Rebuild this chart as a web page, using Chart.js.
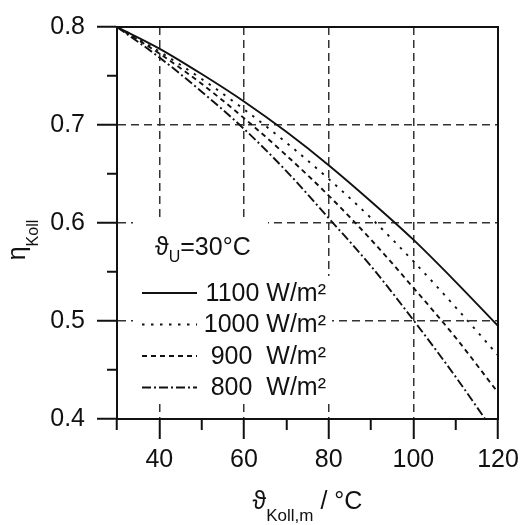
<!DOCTYPE html>
<html lang="de">
<head>
  <meta charset="utf-8">
  <title>Kollektorwirkungsgrad</title>
  <script src="https://cdn.jsdelivr.net/npm/chart.js"></script>
  <style>
    body { margin: 0; background: #fff; }
    #wrap { width: 526px; height: 525px; position: relative; }
  </style>
</head>
<body>
<div id="wrap">
  <canvas id="etaChart"></canvas>
</div>

<script>
  // mittlere Kollektortemperatur in °C
  const temps = [30, 40, 50, 60, 70, 80, 90, 100, 110, 120];
  // Wirkungsgrad je Einstrahlung
  const eta1100 = [0.800, 0.778, 0.752, 0.724, 0.693, 0.659, 0.622, 0.583, 0.540, 0.495];
  const eta1000 = [0.800, 0.775, 0.747, 0.716, 0.682, 0.645, 0.605, 0.561, 0.514, 0.465];
  const eta900  = [0.800, 0.773, 0.742, 0.707, 0.669, 0.628, 0.583, 0.534, 0.483, 0.427];
  const eta800  = [0.800, 0.769, 0.734, 0.696, 0.653, 0.605, 0.556, 0.501, 0.443, 0.381];
  const seriesLabels = ['1100 W/m²', '1000 W/m²', '900  W/m²', '800  W/m²'];
  const xTicks = [40, 60, 80, 100, 120];
  const yTicks = [0.4, 0.5, 0.6, 0.7, 0.8];

  const FONT = "'Liberation Sans', Arial, Helvetica, sans-serif";
  const INK = '#111';

  const toPoints = ys => ys.map((y, i) => ({ x: temps[i], y: y }));
  const isMajorX = v => xTicks.includes(v);
  const isMajorY = v => yTicks.some(t => Math.abs(t - v) < 1e-6);

  // draws text pieces in a row, subscripts get a smaller font and a lower baseline
  function drawParts(ctx, x, y, parts) {
    parts.forEach(p => {
      ctx.font = p.size + 'px ' + FONT;
      ctx.fillText(p.t, x, y + (p.dy || 0));
      x += ctx.measureText(p.t).width;
    });
    return x;
  }
  function partsWidth(ctx, parts) {
    let w = 0;
    parts.forEach(p => { ctx.font = p.size + 'px ' + FONT; w += ctx.measureText(p.t).width; });
    return w;
  }

  const extras = {
    id: 'extras',
    afterDatasetsDraw(chart) {
      const ctx = chart.ctx;
      const a = chart.chartArea;
      ctx.save();

      // white boxes under the legend so the grid stops there
      ctx.fillStyle = '#fff';
      ctx.fillRect(a.left + 16, 221, 135, 56);
      ctx.fillRect(a.left + 16, 276, 199, 126);

      ctx.fillStyle = INK;
      ctx.textBaseline = 'alphabetic';
      ctx.textAlign = 'left';
      drawParts(ctx, a.left + 38, 255, [
        { t: 'ϑ', size: 25 }, { t: 'U', size: 16, dy: 7 }, { t: '=30°C', size: 25 }
      ]);

      // legend rows
      chart.data.datasets.forEach((ds, i) => {
        const y = 293 + i * 31.5;
        ctx.beginPath();
        ctx.setLineDash(ds.borderDash || []);
        ctx.lineWidth = ds.borderWidth;
        ctx.strokeStyle = ds.borderColor;
        ctx.moveTo(a.left + 25, y);
        ctx.lineTo(a.left + 80, y);
        ctx.stroke();
        ctx.setLineDash([]);
        ctx.font = '25px ' + FONT;
        ctx.textAlign = 'right';
        ctx.textBaseline = 'middle';
        ctx.fillText(ds.label, a.left + 209, y + 1);
      });

      // frame
      ctx.setLineDash([]);
      ctx.lineWidth = 2;
      ctx.strokeStyle = INK;
      ctx.strokeRect(a.left, a.top, a.right - a.left, a.bottom - a.top);

      // x axis title
      ctx.textAlign = 'left';
      ctx.textBaseline = 'alphabetic';
      const xt = [
        { t: 'ϑ', size: 25 }, { t: 'Koll,m', size: 17, dy: 12 }, { t: ' / °C', size: 25 }
      ];
      const cx = (a.left + a.right) / 2;
      drawParts(ctx, cx - partsWidth(ctx, xt) / 2, 509, xt);

      // y axis title, rotated
      const yt = [{ t: 'η', size: 25 }, { t: 'Koll', size: 16, dy: 13 }];
      ctx.translate(25, 240 + partsWidth(ctx, yt) / 2);
      ctx.rotate(-Math.PI / 2);
      drawParts(ctx, 0, 0, yt);

      ctx.restore();
    }
  };

  const gridColor = major => major ? '#333' : 'transparent';

  new Chart(document.getElementById('etaChart'), {
    type: 'line',
    data: {
      datasets: [
        { label: seriesLabels[0], data: toPoints(eta1100), borderDash: [] },
        { label: seriesLabels[1], data: toPoints(eta1000), borderDash: [2.5, 6.5] },
        { label: seriesLabels[2], data: toPoints(eta900), borderDash: [5, 4] },
        { label: seriesLabels[3], data: toPoints(eta800), borderDash: [9, 3, 2, 3] }
      ].map(ds => Object.assign(ds, {
        borderColor: INK,
        borderWidth: 1.9,
        pointRadius: 0,
        fill: false,
        cubicInterpolationMode: 'monotone'
      }))
    },
    options: {
      responsive: true,
      maintainAspectRatio: false,
      animation: false,
      layout: { padding: { left: 0, top: 25, right: 28, bottom: 0 } },
      plugins: { legend: { display: false }, tooltip: { enabled: false } },
      scales: {
        x: {
          type: 'linear',
          min: 30,
          max: 120,
          afterFit: s => { s.height = 106; },
          ticks: {
            stepSize: 10,
            autoSkip: false,
            maxRotation: 0,
            padding: 6,
            color: INK,
            font: { family: FONT, size: 25 },
            callback: v => isMajorX(v) ? String(v) : ''
          },
          grid: {
            color: c => gridColor(c.tick && isMajorX(c.tick.value) && c.tick.value !== 120),
            lineWidth: 1.5,
            tickLength: 20,
            tickWidth: 2,
            tickColor: INK,
            // minor ticks: only the first 10 px next to the axis
            tickBorderDash: c => (c.tick && isMajorX(c.tick.value)) ? [] : [10, 30]
          },
          border: { display: true, color: INK, width: 2, dash: [8, 5] }
        },
        y: {
          min: 0.4,
          max: 0.8,
          afterFit: s => { s.width = 117; },
          ticks: {
            stepSize: 0.05,
            autoSkip: false,
            padding: 12,
            color: INK,
            font: { family: FONT, size: 25 },
            callback: v => isMajorY(v) ? v.toFixed(1) : ''
          },
          grid: {
            color: c => gridColor(c.tick && isMajorY(c.tick.value) && c.tick.value > 0.45 && c.tick.value < 0.75),
            lineWidth: 1.5,
            tickLength: 20,
            tickWidth: 2,
            tickColor: INK,
            tickBorderDash: c => (c.tick && isMajorY(c.tick.value)) ? [] : [10, 10],
            tickBorderDashOffset: c => (c.tick && isMajorY(c.tick.value)) ? 0 : 10
          },
          border: { display: true, color: INK, width: 2, dash: [8, 5] }
        }
      }
    },
    plugins: [extras]
  });
</script>
</body>
</html>
